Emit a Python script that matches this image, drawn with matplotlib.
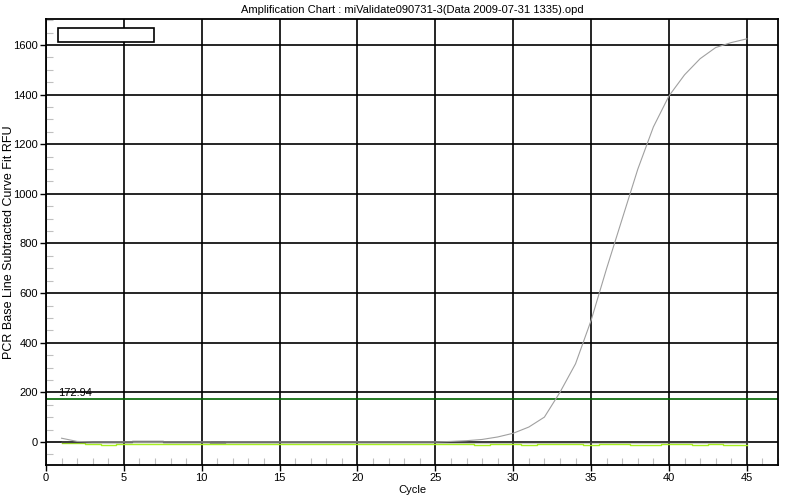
import matplotlib.pyplot as plt
import numpy as np
from matplotlib.patches import Rectangle
from matplotlib.ticker import MultipleLocator

plt.rcParams["font.family"] = ["Liberation Sans", "DejaVu Sans"]

cycles = np.arange(1, 46)

# amplifying sample (grey curve)
rfu_sample = [15, 2, 0, 0, 0, 0, 0, 0, 0, 0,
              0, 0, 0, 0, 0, 0, 0, 0, 0, 0,
              0, 0, 0, 0, 0, 2, 5, 10, 20, 35,
              60, 100, 200, 315, 490, 700, 900, 1100, 1270, 1395,
              1480, 1545, 1590, 1610, 1625]

# flat samples near zero
rfu_green = [-4, -6, -8, -12, -8, -8, -8, -8, -8, -8,
             -8, -8, -8, -8, -8, -8, -8, -8, -8, -8,
             -7, -7, -7, -7, -7, -7, -7, -12, -7, -7,
             -12, -7, -7, -7, -12, -7, -7, -12, -12, -7,
             -7, -12, -7, -12, -12]
rfu_dark = [0, 0, 0, 0, 0, 3, 3, 0, 0, 0,
            0, 0, 0, 0, 0, 0, 0, 0, 0, 0,
            0, 0, 0, 0, 0, 0, 0, 0, 0, 0,
            0, 0, 0, 0, 0, 0, 0, 0, 0, 0,
            0, 0, 0, 0, 0]
rfu_grey = [0, 0, -2, -2, 0, 0, 0, -2, -2, -2,
            -4, -2, -2, -2, -2, -2, -2, -2, -2, -2,
            -2, -2, -2, -2, -2, 0, 0, 0, 0, 0,
            0, 0, 0, 0, 0, 0, 0, 0, 0, 0,
            0, 0, 0, 0, 0]

threshold = 172.94

fig = plt.figure(figsize=(8, 5), dpi=100)
ax = fig.add_axes([0.0575, 0.07, 0.915, 0.892])

ax.plot(cycles, rfu_grey, color="#a0a0a0", linewidth=1.0, drawstyle="steps-mid")
ax.plot(cycles, rfu_green, color="#a8f020", linewidth=1.0, drawstyle="steps-mid")
ax.plot(cycles, rfu_dark, color="#404040", linewidth=1.0, drawstyle="steps-mid")
ax.plot(cycles, rfu_sample, color="#a0a0a0", linewidth=0.8)

ax.axhline(threshold, color="#006400", linewidth=1.2, zorder=1)
ax.text(0.8, threshold + 4, f"{threshold:.2f}", fontsize=8, va="bottom", ha="left")

ax.set_xlim(0, 47)
ax.set_ylim(-93, 1705)

ax.xaxis.set_major_locator(MultipleLocator(5))
ax.xaxis.set_minor_locator(MultipleLocator(1))
ax.yaxis.set_major_locator(MultipleLocator(200))
ax.yaxis.set_minor_locator(MultipleLocator(50))

ax.grid(True, which="major", color="black", linewidth=1.2, zorder=0)
ax.set_axisbelow(True)
ax.tick_params(which="major", direction="out", length=4, width=1, labelsize=8, pad=2)
ax.tick_params(which="minor", direction="in", length=5, width=0.8, color="#c0c0c0")

for s in ax.spines.values():
    s.set_linewidth(1.3)

ax.set_title("Amplification Chart : miValidate090731-3(Data 2009-07-31 1335).opd",
             fontsize=8, pad=4)
ax.set_xlabel("Cycle", fontsize=8, labelpad=1)
ax.set_ylabel("PCR Base Line Subtracted Curve Fit RFU", fontsize=9)
ax.yaxis.set_label_coords(-0.042, 0.5)

# empty legend box
ax.add_patch(Rectangle((0.0164, 0.948), 0.131, 0.031, transform=ax.transAxes,
                       facecolor="white", edgecolor="black", linewidth=1.2, zorder=5))

fig.savefig("out.png", dpi=100)
